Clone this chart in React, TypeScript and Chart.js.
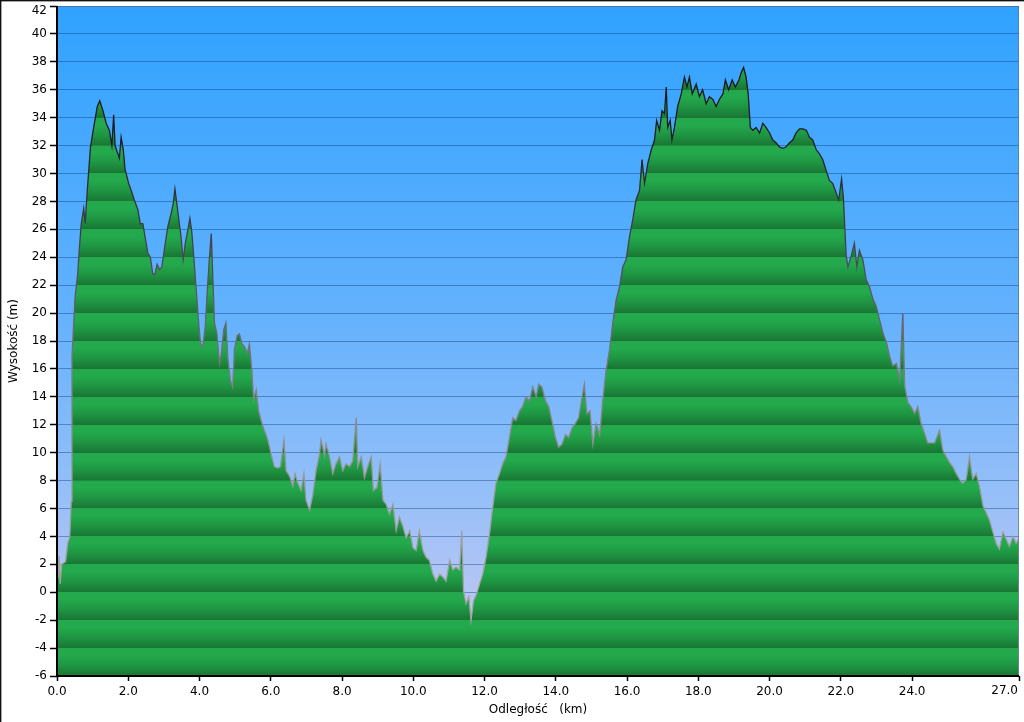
import { useEffect, useRef } from 'react';
import { Chart, registerables } from 'chart.js';

Chart.register(...registerables);

const DIST_KM = [
  0.0, 0.03, 0.06, 0.09, 0.13, 0.18, 0.24, 0.3, 0.36, 0.4, 0.42, 0.47, 0.51, 0.58, 0.63, 0.68, 0.75, 0.79, 0.85, 0.94,
  1.03, 1.13, 1.2, 1.29, 1.38, 1.47, 1.54, 1.59, 1.63, 1.71, 1.75, 1.8, 1.86, 1.91, 2.01, 2.08, 2.17, 2.27, 2.34, 2.41,
  2.47, 2.55, 2.62, 2.69, 2.75, 2.81, 2.88, 2.94, 3.02, 3.11, 3.2, 3.26, 3.31, 3.35, 3.41, 3.48, 3.54, 3.6, 3.67, 3.73,
  3.78, 3.84, 3.91, 3.97, 4.03, 4.09, 4.16, 4.23, 4.28, 4.33, 4.37, 4.42, 4.49, 4.56, 4.61, 4.68, 4.74, 4.79, 4.87, 4.93,
  4.98, 5.06, 5.12, 5.19, 5.26, 5.34, 5.4, 5.47, 5.52, 5.59, 5.66, 5.73, 5.82, 5.92, 6.01, 6.1, 6.2, 6.27, 6.37, 6.43,
  6.53, 6.62, 6.68, 6.76, 6.85, 6.93, 6.99, 7.09, 7.18, 7.27, 7.37, 7.41, 7.51, 7.55, 7.65, 7.74, 7.83, 7.93, 8.02, 8.11,
  8.21, 8.3, 8.4, 8.44, 8.54, 8.63, 8.72, 8.82, 8.88, 8.98, 9.07, 9.15, 9.24, 9.33, 9.43, 9.52, 9.61, 9.71, 9.8, 9.9,
  9.99, 10.08, 10.17, 10.27, 10.36, 10.45, 10.55, 10.64, 10.74, 10.83, 10.92, 11.02, 11.11, 11.2, 11.3, 11.36, 11.41, 11.48, 11.56, 11.62,
  11.69, 11.78, 11.86, 11.95, 12.04, 12.14, 12.23, 12.32, 12.42, 12.51, 12.6, 12.7, 12.79, 12.88, 12.98, 13.07, 13.16, 13.26, 13.35, 13.45,
  13.52, 13.61, 13.71, 13.8, 13.89, 13.99, 14.08, 14.17, 14.27, 14.36, 14.46, 14.55, 14.64, 14.74, 14.8, 14.87, 14.96, 15.04, 15.13, 15.23,
  15.32, 15.41, 15.51, 15.6, 15.69, 15.79, 15.88, 15.97, 16.07, 16.16, 16.25, 16.35, 16.42, 16.49, 16.58, 16.68, 16.77, 16.83, 16.91, 16.98,
  17.05, 17.1, 17.14, 17.21, 17.26, 17.33, 17.42, 17.52, 17.61, 17.68, 17.75, 17.83, 17.94, 18.03, 18.12, 18.22, 18.31, 18.41, 18.5, 18.59,
  18.69, 18.76, 18.85, 18.95, 19.04, 19.14, 19.2, 19.27, 19.34, 19.4, 19.46, 19.53, 19.62, 19.72, 19.81, 19.9, 20.0, 20.09, 20.18, 20.28,
  20.37, 20.46, 20.56, 20.65, 20.74, 20.84, 20.93, 21.03, 21.12, 21.21, 21.31, 21.4, 21.49, 21.59, 21.68, 21.77, 21.87, 21.94, 22.02, 22.07,
  22.11, 22.15, 22.2, 22.29, 22.38, 22.45, 22.52, 22.62, 22.71, 22.8, 22.9, 22.99, 23.09, 23.18, 23.28, 23.37, 23.46, 23.56, 23.65, 23.74,
  23.79, 23.88, 23.97, 24.07, 24.16, 24.25, 24.35, 24.44, 24.53, 24.63, 24.77, 24.86, 24.96, 25.05, 25.14, 25.24, 25.33, 25.42, 25.52, 25.61,
  25.7, 25.8, 25.89, 25.99, 26.08, 26.17, 26.27, 26.36, 26.45, 26.55, 26.64, 26.73, 26.83, 26.92, 26.99,
];

const ELEV_M = [
  3.2, 1.0, 2.6, 0.6, 2.0, 2.1, 2.2, 3.5, 4.0, 6.5, 16.9, 19.3, 21.2, 22.8, 24.7, 26.4, 27.5, 26.4, 28.8, 31.9,
  33.3, 34.8, 35.2, 34.5, 33.6, 33.1, 32.0, 34.2, 32.0, 31.4, 31.1, 32.6, 31.7, 30.3, 29.3, 28.8, 28.1, 27.4, 26.4, 26.4,
  25.5, 24.3, 24.0, 22.8, 22.8, 23.5, 23.1, 23.3, 24.7, 26.2, 27.1, 27.8, 28.9, 28.1, 26.9, 25.5, 23.8, 25.0, 25.9, 26.8,
  25.9, 24.0, 21.6, 19.5, 17.8, 17.6, 19.0, 22.1, 24.0, 25.7, 22.8, 19.3, 18.5, 16.4, 17.1, 18.8, 19.3, 16.9, 15.2, 14.7,
  17.4, 18.4, 18.5, 17.8, 17.6, 17.1, 17.8, 15.9, 13.8, 14.5, 13.0, 12.3, 11.6, 10.9, 9.9, 9.0, 8.9, 9.0, 10.9, 8.7,
  8.3, 7.6, 8.5, 7.8, 7.3, 8.5, 6.6, 5.9, 7.0, 8.7, 9.9, 10.9, 9.8, 10.6, 9.7, 8.5, 9.2, 9.7, 8.7, 9.2,
  9.0, 9.4, 12.5, 9.0, 9.7, 8.2, 9.0, 9.7, 7.3, 7.5, 9.2, 6.6, 6.3, 5.6, 6.3, 4.4, 5.4, 4.7, 3.9, 4.4,
  3.2, 3.0, 4.4, 3.0, 2.5, 2.3, 1.3, 0.8, 1.3, 1.1, 0.8, 2.3, 1.6, 1.8, 1.6, 4.4, 0.1, -0.8, -0.3, -2.0,
  -0.6, -0.1, 0.6, 1.3, 2.5, 4.2, 6.1, 7.8, 8.5, 9.2, 9.7, 11.1, 12.5, 12.3, 13.0, 13.3, 14.0, 13.7, 14.7, 14.0,
  14.9, 14.7, 13.7, 13.3, 12.3, 11.1, 10.4, 10.6, 11.3, 11.1, 11.8, 12.1, 12.5, 14.0, 14.9, 12.8, 13.0, 10.6, 12.1, 11.3,
  13.8, 15.9, 17.4, 19.3, 20.9, 21.9, 23.3, 23.8, 25.5, 26.7, 28.1, 28.8, 31.0, 29.3, 30.7, 31.7, 32.4, 33.8, 33.1, 34.5,
  34.3, 36.2, 33.3, 33.8, 32.4, 33.3, 34.8, 35.7, 36.9, 36.2, 36.9, 35.7, 36.4, 35.5, 36.0, 35.0, 35.5, 35.3, 34.8, 35.3,
  35.7, 36.7, 36.0, 36.7, 36.2, 36.7, 37.2, 37.6, 36.9, 35.7, 33.3, 33.1, 33.3, 32.9, 33.6, 33.3, 32.9, 32.4, 32.2, 31.9,
  31.8, 31.9, 32.2, 32.4, 32.9, 33.2, 33.2, 33.1, 32.6, 32.4, 31.7, 31.4, 31.0, 30.2, 29.5, 29.3, 28.6, 28.1, 29.6, 28.3,
  26.2, 24.1, 23.3, 24.1, 25.0, 23.3, 24.5, 23.8, 22.4, 21.9, 21.0, 20.5, 19.5, 18.6, 17.9, 16.9, 16.2, 16.4, 15.2, 20.0,
  14.8, 13.6, 13.3, 12.8, 13.3, 12.1, 11.4, 10.7, 10.7, 10.7, 11.6, 10.2, 9.7, 9.3, 9.0, 8.5, 8.1, 7.8, 8.1, 9.7,
  8.1, 8.5, 7.6, 6.2, 5.7, 5.2, 4.3, 3.5, 3.1, 4.3, 3.8, 3.3, 4.0, 3.5, 3.8,
];

const X_TICKS = [0, 2, 4, 6, 8, 10, 12, 14, 16, 18, 20, 22, 24, 27];
const X_MIN = 0;
const X_MAX = 27;
const Y_MIN = -6;
const Y_MAX = 42;
const Y_STEP = 2;
const X_TITLE = 'Odległość   (km)';
const Y_TITLE = 'Wysokość (m)';

const FONT = { family: "'DejaVu Sans', Verdana, sans-serif", size: 12 };
const FONT_CSS = "12px 'DejaVu Sans', Verdana, sans-serif";

const fmtX = (v: number) => Number(v).toFixed(1);
const fmtY = (v: number) => String(v);

function fracOf(chart: any, v: number) {
  const ca = chart.chartArea;
  const p = chart.scales.y.getPixelForValue(v);
  return Math.min(1, Math.max(0, (p - ca.top) / (ca.bottom - ca.top)));
}

function bandFill(chart: any) {
  const ca = chart.chartArea;
  if (!ca || !chart.scales.y) return 'rgb(34,160,72)';
  const g = chart.ctx.createLinearGradient(0, ca.top, 0, ca.bottom);
  for (let v = Y_MAX; v > Y_MIN; v -= Y_STEP) {
    const a = fracOf(chart, v);
    const b = fracOf(chart, v - Y_STEP);
    const at = (t: number) => a + (b - a) * t;
    g.addColorStop(at(0.0), 'rgb(37,168,77)');
    g.addColorStop(at(0.25), 'rgb(35,170,77)');
    g.addColorStop(at(0.6), 'rgb(31,150,67)');
    g.addColorStop(at(0.9), 'rgb(26,126,55)');
    g.addColorStop(at(0.995), 'rgb(25,118,51)');
  }
  return g;
}

function edgeColor(chart: any) {
  const ca = chart.chartArea;
  if (!ca || !chart.scales.y) return '#333';
  const g = chart.ctx.createLinearGradient(0, ca.top, 0, ca.bottom);
  g.addColorStop(fracOf(chart, 42), '#101014');
  g.addColorStop(fracOf(chart, 32), '#1e1e26');
  g.addColorStop(fracOf(chart, 24), '#484850');
  g.addColorStop(fracOf(chart, 16), '#7a7a80');
  g.addColorStop(fracOf(chart, 8), '#999');
  g.addColorStop(fracOf(chart, -6), '#aaa');
  return g;
}

const framePlugin = {
  id: 'frame',
  beforeDraw(chart: any) {
    const { ctx, chartArea: ca } = chart;
    ctx.save();
    ctx.fillStyle = '#ffffff';
    ctx.fillRect(0, 0, chart.width, chart.height);
    const g = ctx.createLinearGradient(0, ca.top, 0, ca.bottom);
    g.addColorStop(0, '#30a2ff');
    g.addColorStop(0.45, '#62b1fd');
    g.addColorStop(0.7, '#90bef9');
    g.addColorStop(0.86, '#b2c5f5');
    g.addColorStop(1, '#c4cbf2');
    ctx.fillStyle = g;
    ctx.fillRect(ca.left, ca.top, ca.right - ca.left, ca.bottom - ca.top);
    ctx.restore();
  },
  afterDraw(chart: any) {
    const { ctx, chartArea: ca, scales } = chart;
    ctx.save();
    ctx.strokeStyle = 'rgba(90,115,150,0.7)';
    ctx.lineWidth = 1;
    ctx.beginPath();
    ctx.moveTo(ca.left, ca.top + 0.5);
    ctx.lineTo(ca.right - 0.5, ca.top + 0.5);
    ctx.lineTo(ca.right - 0.5, ca.bottom);
    ctx.stroke();
    ctx.fillStyle = '#000';
    ctx.fillRect(ca.left - 1, ca.top, 2, ca.bottom - ca.top + 1);
    ctx.fillRect(ca.left - 1, ca.bottom - 1, ca.right - ca.left + 1, 2);
    // edge labels, kept inside the picture like the original
    ctx.font = FONT_CSS;
    ctx.fillStyle = '#000';
    ctx.textAlign = 'right';
    ctx.textBaseline = 'middle';
    ctx.fillText(fmtY(Y_MAX), ca.left - 10, Math.max(scales.y.getPixelForValue(Y_MAX), ca.top + 4.5));
    ctx.textBaseline = 'top';
    ctx.fillText(fmtX(X_MAX), Math.min(scales.x.getPixelForValue(X_MAX) + 14, ca.right - 1), ca.bottom + 9);
    ctx.fillStyle = '#111';
    ctx.fillRect(0, 0, chart.width, 1);
    ctx.fillRect(0, 0, 1, chart.height);
    ctx.fillStyle = 'rgba(0,0,0,0.35)';
    ctx.fillRect(1, 1, chart.width - 1, 1);
    ctx.fillRect(1, 1, 1, chart.height - 1);
    ctx.restore();
  },
};

export default function App() {
  const canvasRef = useRef<HTMLCanvasElement | null>(null);

  useEffect(() => {
    if (!canvasRef.current) return;
    const points = DIST_KM.map((x, i) => ({ x, y: ELEV_M[i] }));
    const chart = new Chart(canvasRef.current, {
      type: 'line',
      data: {
        datasets: [
          {
            data: points,
            fill: 'start',
            backgroundColor: (ctx: any) => bandFill(ctx.chart),
            borderColor: (ctx: any) => edgeColor(ctx.chart),
            borderWidth: 1.3,
            pointRadius: 0,
            tension: 0,
          },
        ],
      },
      options: {
        animation: false,
        responsive: true,
        maintainAspectRatio: false,
        layout: { autoPadding: false, padding: { left: 0, right: 5, top: 6, bottom: 0 } },
        plugins: { legend: { display: false }, tooltip: { enabled: false } },
        scales: {
          x: {
            type: 'linear',
            min: X_MIN,
            max: X_MAX,
            afterBuildTicks: (scale: any) => {
              scale.ticks = X_TICKS.map((value) => ({ value }));
            },
            afterFit: (scale: any) => {
              scale.height = 46;
              scale.paddingLeft = 0;
              scale.paddingRight = 0;
            },
            ticks: {
              autoSkip: false,
              maxRotation: 0,
              color: '#000',
              font: FONT,
              padding: 4,
              callback: (v: any) => (Number(v) === X_MAX ? '' : fmtX(v)),
            },
            grid: { drawOnChartArea: false, drawTicks: true, tickLength: 5, tickColor: '#000', tickWidth: 1.5 },
            border: { display: false },
            title: { display: true, text: X_TITLE, color: '#000', font: FONT, padding: { top: 0, bottom: 5 } },
          },
          y: {
            min: Y_MIN,
            max: Y_MAX,
            afterFit: (scale: any) => {
              scale.width = 57;
              scale.paddingTop = 0;
              scale.paddingBottom = 0;
            },
            ticks: {
              stepSize: Y_STEP,
              color: '#000',
              font: FONT,
              padding: 3,
              callback: (v: any) => (Number(v) === Y_MAX ? '' : fmtY(v)),
            },
            grid: { color: 'rgba(0,45,110,0.38)', lineWidth: 1, tickLength: 7, tickColor: '#000', tickWidth: 1.5 },
            border: { display: false },
            title: { display: true, text: Y_TITLE, color: '#000', font: FONT, padding: { top: 7, bottom: 0 } },
          },
        },
      },
      plugins: [framePlugin],
    });
    return () => chart.destroy();
  }, []);

  return (
    <div style={{ position: 'fixed', left: 0, top: 0, width: 1024, height: 722, background: '#fff' }}>
      <canvas ref={canvasRef} style={{ display: 'block' }} />
    </div>
  );
}
